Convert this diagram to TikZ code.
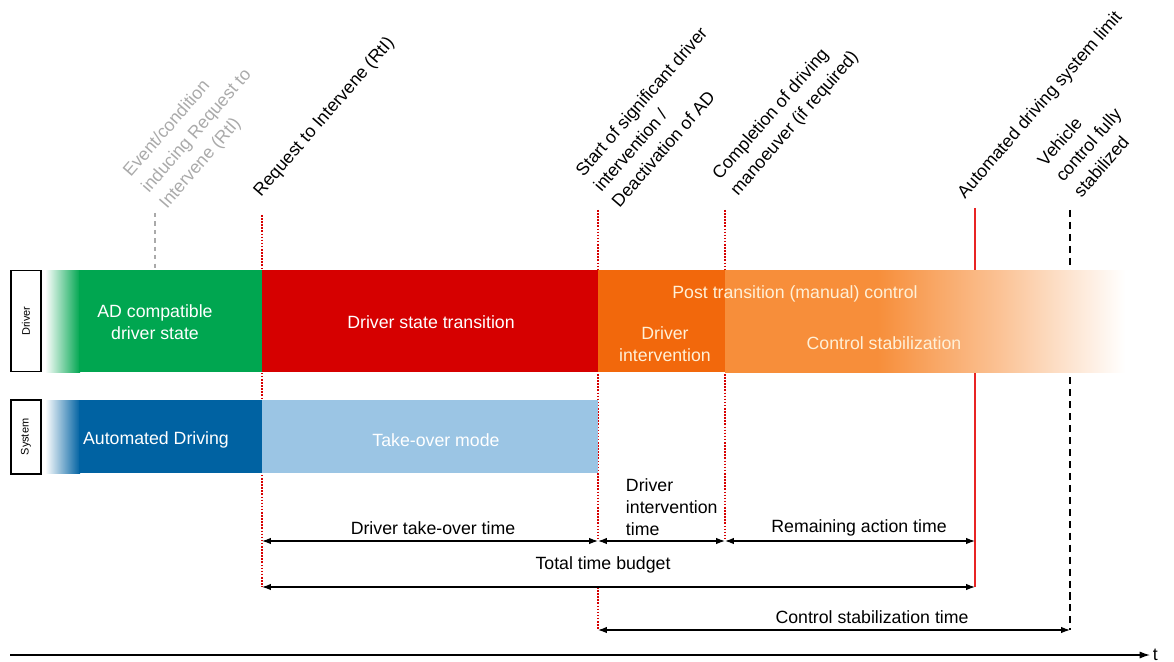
\documentclass[tikz,border=0pt]{standalone}
\usepackage{fontspec}
\setmainfont{Liberation Sans}
\usetikzlibrary{arrows.meta}
\definecolor{adgreen}{RGB}{0,166,80}
\definecolor{transred}{RGB}{214,0,0}
\definecolor{adblue}{RGB}{0,98,162}
\definecolor{tkblue}{RGB}{155,197,228}
\definecolor{dkorange}{RGB}{242,104,12}
\definecolor{ltorange}{RGB}{247,142,58}
\definecolor{limitred}{RGB}{232,36,36}
\definecolor{evtgray}{RGB}{170,170,170}
\definecolor{cream}{RGB}{255,240,215}
\pgfdeclarehorizontalshading{orangefade}{100bp}{color(0bp)=(ltorange); color(25bp)=(ltorange);
  color(44bp)=(ltorange); color(59bp)=(ltorange!55); color(75bp)=(white); color(100bp)=(white)}
\begin{document}
\begin{tikzpicture}[x=0.025cm,y=-0.025cm,
    txt/.style={font=\fontsize{12.6}{15.5}\selectfont},
    band text/.style={txt,text=white,align=center},
    event label/.style={font=\fontsize{12.6}{17}\selectfont,rotate=49,anchor=south west,align=left,inner sep=1pt},
    lane box/.style={draw,line width=1.2pt,rotate=90,minimum width=2.52cm,font=\fontsize{7.8}{9}\selectfont},
    span/.style={{Latex[length=2.2mm,width=1.6mm]}-{Latex[length=2.2mm,width=1.6mm]},line width=0.9pt},
    rtline/.style={transred,line width=1.1pt,dash pattern=on 1.1pt off 1.1pt}]
    \useasboundingbox (0,0) rectangle (1174,662);

    \coordinate (evt) at (155,213);
    \coordinate (rti) at (262,215);
    \coordinate (sdi) at (598,210);
    \coordinate (cdm) at (725,210);
    \coordinate (lim) at (975,208);
    \coordinate (vcs) at (1070,210);
    \coordinate (row1) at (0,541);
    \coordinate (row2) at (0,587);
    \coordinate (row3) at (0,630);
    \coordinate (t0) at (10,655);
    \coordinate (t1) at (1150,655);

    \draw[evtgray,dashed,line width=1pt] (evt) -- (155,268);
    \draw[rtline] (rti) -- (rti |- row2);
    \draw[rtline] (sdi) -- (sdi |- row1);
    \draw[rtline] (sdi |- row2) -- (sdi |- row3);
    \draw[rtline] (cdm) -- (cdm |- row1);
    \draw[limitred,line width=1.3pt] (lim) -- (lim |- row2);
    \draw[line width=1pt,dash pattern=on 5pt off 3.5pt] (vcs) -- (vcs |- row3);

    % driver lane
    \shade[left color=white,right color=adgreen] (45,270) rectangle (80,372);
    \fill[adgreen] (79,270) rectangle (262,372);
    \fill[transred] (262,270) rectangle (598,372);
    \fill[dkorange] (598,270) rectangle (725,372);
    \shade[shading=orangefade] (725,270) rectangle (1125,372);
    % system lane
    \shade[left color=white,right color=adblue] (45,400) rectangle (80,473);
    \fill[adblue] (79,400) rectangle (262,473);
    \fill[tkblue] (262,400) rectangle (598,473);

    \node[lane box,minimum height=0.75cm] (driver) at (26,321) {Driver};
    \node[lane box,minimum width=1.85cm,minimum height=0.75cm] (system) at (26,437) {System};

    \node[band text] (adstate) at (155,322) {AD compatible\\driver state};
    \node[band text] (transition) at (431,322) {Driver state transition};
    \node[band text] (autodrive) at (156,440) {Automated Driving};
    \node[band text] (takeover) at (436,440) {Take-over mode};
    \node[band text,text=cream] (postctrl) at (795,294) {Post transition (manual) control};
    \node[band text,text=cream] (intervention) at (665,344) {Driver\\intervention};
    \node[band text,text=cream] (stabilize) at (884,343) {Control stabilization};

    \node[event label,text=evtgray] (evtlabel) at (170,214) {Event/condition\\inducing Request to\\Intervene (RtI)};
    \node[event label] (rtilabel) at (264,202) {Request to Intervene (RtI)};
    \node[event label] (sdilabel) at (620,211) {Start of significant driver\\intervention /\\Deactivation of AD};
    \node[event label] (cdmlabel) at (741,201) {Completion of driving\\manoeuver (if required)};
    \node[event label] (limlabel) at (968,204) {Automated driving system limit};
    \node[event label] (vcslabel) at (1082,201) {Vehicle\\control fully\\stabilized};

    \draw[span] (rti |- row1) -- (sdi |- row1);
    \draw[span] (sdi |- row1) -- (cdm |- row1);
    \draw[span] (cdm |- row1) -- (lim |- row1);
    \draw[span] (rti |- row2) -- (lim |- row2);
    \draw[span] (sdi |- row3) -- (vcs |- row3);

    \node[txt] (takeovertime) at (433,528) {Driver take-over time};
    \node[txt,align=left,anchor=north west] (intervtime) at (621,474) {Driver\\intervention\\time};
    \node[txt] (remaining) at (859,528) {Remaining action time};
    \node[txt] (budget) at (603,565) {Total time budget};
    \node[txt] (stabtime) at (872,617) {Control stabilization time};

    \draw[-{Latex[length=2.6mm,width=1.8mm]},line width=1pt] (t0) -- (t1) node[txt,right,inner sep=1.5pt] (tlabel) {t};
\end{tikzpicture}
\end{document}
